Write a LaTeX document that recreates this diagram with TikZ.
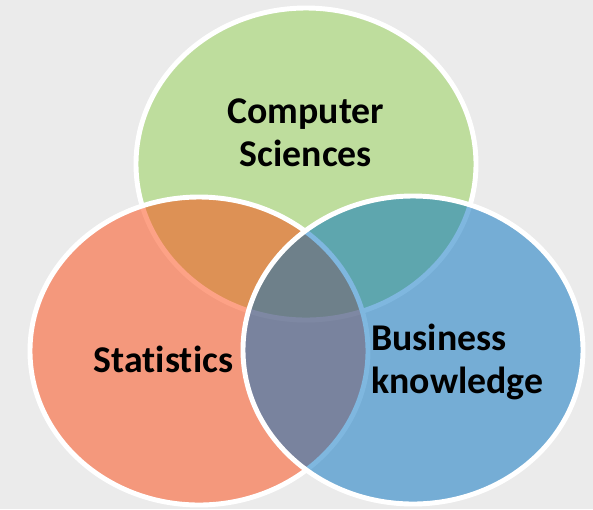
\documentclass[tikz,border=0pt]{standalone}
\usepackage{fontspec}
\setmainfont{Carlito}[Ligatures={NoCommon}]
\usepackage{tikz}

\definecolor{bggrey}{RGB}{235,235,235}
\definecolor{csgreen}{RGB}{146,208,80}
\definecolor{statorange}{RGB}{253,71,15}
\definecolor{busblue}{RGB}{0,112,192}

\tikzset{
  venn/.style={draw=white, line width=2.8pt, fill opacity=0.5},
  vtitle/.style={font=\bfseries\fontsize{21.5}{24.5}\selectfont, inner sep=0pt}
}

\begin{document}
\begin{tikzpicture}
        %% Background
        \useasboundingbox (0,0) rectangle (11.86,-10.18);
        \fill[bggrey] (0,0) rectangle (11.86,-10.18);

        % Sets
        \draw[venn, fill=csgreen] (6.12,-3.28) ellipse (3.4 and 3.12);
        \draw[venn, fill=statorange] (3.98,-7.02) ellipse (3.38 and 3.08);
        \draw[venn, fill=busblue] (8.26,-7.00) ellipse (3.4 and 3.08);

        % Titles
        \node[vtitle, align=center] (cs) at (6.12,-2.66) {Computer\\Sciences};
        \node[vtitle] (stat) at (3.27,-7.19) {Statistics};
        \node[vtitle, align=left, anchor=west] (bus) at (7.42,-7.24) {Business\\knowledge};
\end{tikzpicture}
\end{document}
